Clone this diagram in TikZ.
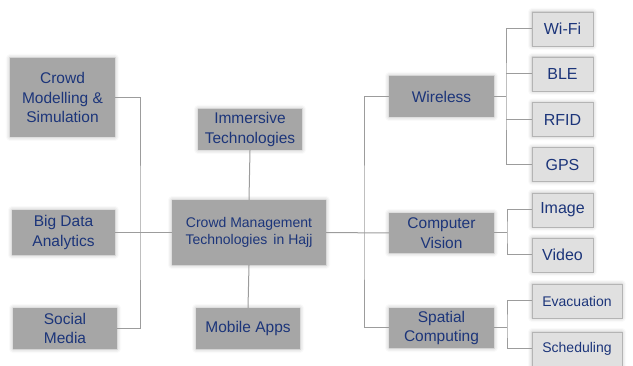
\documentclass[tikz,border=0pt]{standalone}
\usepackage{fontspec}
\setmainfont{Liberation Sans}
\usetikzlibrary{shadows.blur}
\definecolor{darkbox}{HTML}{A6A6A6}
\definecolor{lightbox}{HTML}{E0E0E0}
\definecolor{lightedge}{HTML}{B4B4B4}
\definecolor{labeltext}{HTML}{1C357A}
\definecolor{wire}{HTML}{9C9C9C}
\begin{document}
\begin{tikzpicture}[x=1pt,y=-1pt,
  glow/.style={blur shadow={shadow xshift=0pt,shadow yshift=0pt,shadow blur radius=4pt,shadow opacity=30}},
  topic/.style={glow,fill=darkbox,draw=none,text=labeltext,align=center,inner sep=0pt,
    font=\fontsize{15.5}{19.5}\selectfont},
  leaf/.style={glow,fill=lightbox,draw=lightedge,line width=0.8pt,text=labeltext,align=center,inner sep=0pt,
    minimum width=61pt,minimum height=34pt,font=\fontsize{16}{19}\selectfont},
  link/.style={draw=wire,line width=1pt}]
\useasboundingbox (0,0) rectangle (633,366);

% left column
\node[topic,minimum width=105pt,minimum height=79pt] (cms) at (62.5,97.5) {Crowd\\Modelling \&\\Simulation};
\node[topic,minimum width=103pt,minimum height=45pt] (bda) at (63.5,232.5) {Big Data\\Analytics};
\node[topic,minimum width=104pt,minimum height=41pt] (sm) at (65,328.5) {Social\\Media};

% middle column
\node[topic,minimum width=104pt,minimum height=41pt] (imm) at (250,129.5) {Immersive\\Technologies};
\node[topic,minimum width=154pt,minimum height=65pt,font=\fontsize{14}{17.5}\selectfont] (ctr) at (249,232.5) {Crowd Management\\Technologies\, in Hajj};
\node[topic,minimum width=104pt,minimum height=41pt] (mob) at (248,328.5) {Mobile Apps};

% right column
\node[topic,minimum width=105pt,minimum height=41pt] (wir) at (441.5,96.5) {Wireless};
\node[topic,minimum width=105pt,minimum height=40pt] (cv) at (441.5,233) {Computer\\Vision};
\node[topic,minimum width=105pt,minimum height=40pt] (sc) at (441.5,328) {Spatial\\Computing};

% leaves
\node[leaf] (wifi) at (562.5,29) {Wi-Fi};
\node[leaf] (ble) at (562.5,74) {BLE};
\node[leaf] (rfid) at (562.5,119.5) {RFID};
\node[leaf] (gps) at (562.5,164.5) {GPS};
\node[leaf] (img) at (562.5,210) {Image};
\node[leaf] (vid) at (562.5,255) {Video};
\node[leaf,minimum width=90pt,font=\fontsize{14}{16}\selectfont] (evac) at (577,301) {Evacuation};
\node[leaf,minimum width=90pt,font=\fontsize{14}{16}\selectfont] (sched) at (577,349) {Scheduling};

% branch points
\coordinate (lt) at (140,232.5);
\coordinate (rt) at (364,233);
\coordinate (wt) at (506,96.5);
\coordinate (ct) at (507,233);
\coordinate (st) at (507,328);

% connectors
\begin{scope}[on background layer/.try]
\draw[link] (cms.east) -| (lt) |- (sm.east);
\draw[link] (bda.east) -- (ctr.west);
\draw[link] (imm.south) -- (ctr.north);
\draw[link] (ctr.south) -- (mob.north);
\draw[link] (ctr.east) -- (cv.west);
\draw[link] (wir.west) -| (rt) |- (sc.west);
\draw[link] (wir.east) -- (wt);
\draw[link] (wifi.west) -| (wt) |- (gps.west);
\draw[link] (ble.west) -- (ble.west -| wt);
\draw[link] (rfid.west) -- (rfid.west -| wt);
\draw[link] (cv.east) -- (ct);
\draw[link] (img.west) -| (ct) |- (vid.west);
\draw[link] (sc.east) -- (st);
\draw[link] (evac.west) -| (st) |- (sched.west);
\end{scope}
\end{tikzpicture}
\end{document}
